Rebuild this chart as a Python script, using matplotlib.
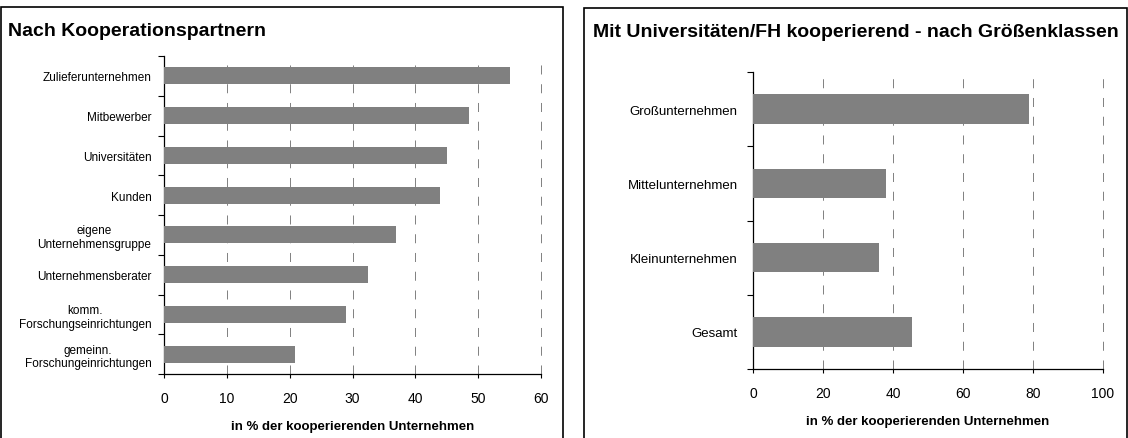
import matplotlib.pyplot as plt
from matplotlib.patches import Rectangle
import numpy as np

plt.rcParams['font.family'] = ['Liberation Sans', 'DejaVu Sans']
plt.rcParams['lines.scale_dashes'] = False

# Nach Kooperationspartnern
partner_labels = ["Zulieferunternehmen", "Mitbewerber", "Universitäten", "Kunden",
                  "eigene\nUnternehmensgruppe", "Unternehmensberater",
                  "komm.\nForschungseinrichtungen", "gemeinn.\nForschungeinrichtungen"]
partner_values = [55, 48.6, 45, 44, 37, 32.4, 28.9, 20.8]
partner_ticks = [0, 10, 20, 30, 40, 50, 60]

# Mit Universitäten/FH kooperierend - nach Größenklassen
size_labels = ["Großunternehmen", "Mittelunternehmen", "Kleinunternehmen", "Gesamt"]
size_values = [79, 38, 36, 45.3]
size_ticks = [0, 20, 40, 60, 80, 100]

xlabel = "in % der kooperierenden Unternehmen"
bar_color = "#808080"

W, H = 1128, 439
fig = plt.figure(figsize=(W / 100, H / 100), dpi=100)

# panel frames, bottom edge runs off the figure
for x0, x1, top in [(1, 563, 8), (584, 1127, 9)]:
    fig.patches.append(Rectangle((x0 / W, -0.1), (x1 - x0) / W, (H - top) / H + 0.1,
                                 transform=fig.transFigure, fill=False,
                                 edgecolor="black", linewidth=1.2, clip_on=False))


def draw_panel(ax, labels, values, ticks, height, label_size, label_pad):
    n = len(labels)
    y = np.arange(n)[::-1]
    ax.barh(y, values, height=height, color=bar_color, zorder=3)
    ax.set_xlim(ticks[0], ticks[-1])
    ax.set_ylim(-0.5, n - 0.5)
    ax.set_xticks(ticks)
    ax.tick_params(axis="x", labelsize=10, length=3, width=0.8, pad=9)
    ax.set_yticks(y)
    ax.set_yticklabels(labels, fontsize=label_size, multialignment="center")
    ax.tick_params(axis="y", length=0, pad=label_pad)
    # separator ticks between categories
    ax.set_yticks(np.arange(n + 1) - 0.5, minor=True)
    ax.tick_params(axis="y", which="minor", length=4, width=0.8)
    for s in ["top", "right"]:
        ax.spines[s].set_visible(False)
    for s in ["left", "bottom"]:
        ax.spines[s].set_linewidth(0.9)
    ax.xaxis.grid(True, color="#808080", linestyle=(0, (6.5, 7)), linewidth=0.7)
    for gl in ax.get_xgridlines():
        gl.set_clip_on(False)
    ax.set_axisbelow(True)
    ax.set_xlabel(xlabel, fontsize=9.5, fontweight="bold", labelpad=11)


ax1 = fig.add_axes([164 / W, (H - 375) / H, 377 / W, 318 / H])
draw_panel(ax1, partner_labels, partner_values, partner_ticks, 0.43, 8.5, 9)
ax2 = fig.add_axes([753 / W, (H - 370) / H, 350 / W, 297 / H])
draw_panel(ax2, size_labels, size_values, size_ticks, 0.4, 9.5, 11)

fig.text(8 / W, 1 - 36 / H, "Nach Kooperationspartnern", fontsize=14,
         fontweight="bold", va="baseline")
fig.text(593 / W, 1 - 37 / H, "Mit Universitäten/FH kooperierend - nach Größenklassen",
         fontsize=14, fontweight="bold", va="baseline")

fig.savefig("out.png", dpi=100)
